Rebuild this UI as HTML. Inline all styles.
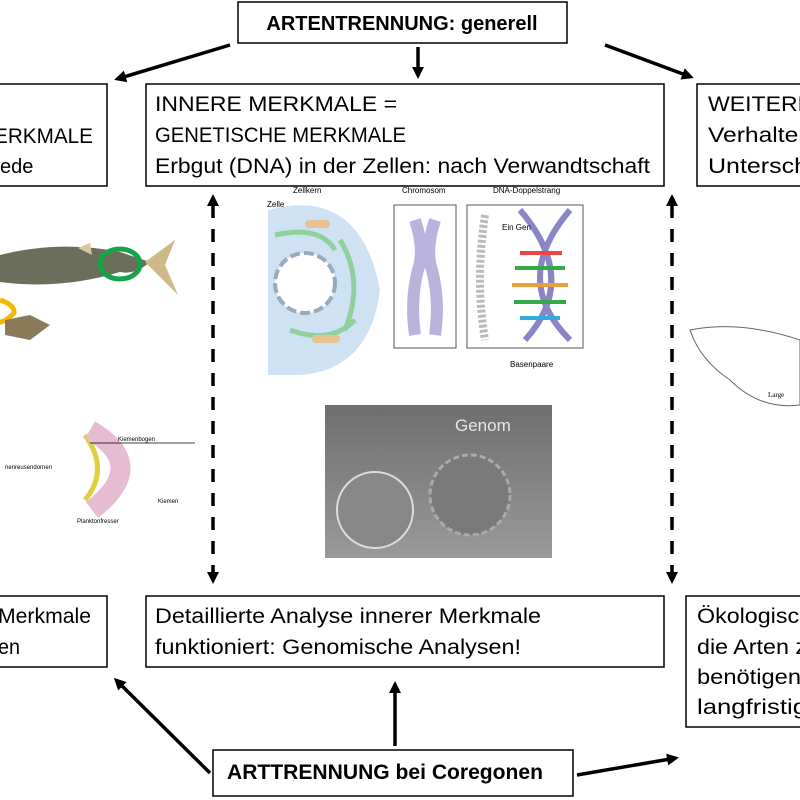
<!DOCTYPE html>
<html><head><meta charset="utf-8"><style>
body{margin:0;background:#fff;}
svg{display:block;font-family:"Liberation Sans",sans-serif;}
</style></head><body>
<svg width="800" height="800" viewBox="0 0 800 800" xmlns="http://www.w3.org/2000/svg">
<defs>
<marker id="b" markerWidth="12" markerHeight="12" refX="9" refY="6" orient="auto" markerUnits="userSpaceOnUse"><path d="M0,0L12,6L0,12z" fill="#000"/></marker>
<linearGradient id="g" x1="0" y1="0" x2="0" y2="1"><stop offset="0" stop-color="#6e6e6e"/><stop offset="1" stop-color="#9a9a9a"/></linearGradient>
</defs>
<rect width="800" height="800" fill="#fff"/>
<g fill="none" stroke="#000" stroke-width="1.5">
<rect x="238" y="2" width="329" height="41"/>
<rect x="-2" y="84" width="109" height="102"/>
<rect x="146" y="84" width="518" height="102"/>
<rect x="697" y="84" width="110" height="102"/>
<rect x="-2" y="596" width="109" height="71"/>
<rect x="146" y="596" width="518" height="71"/>
<rect x="686" y="596" width="120" height="131"/>
<rect x="213" y="750" width="360" height="46"/>
</g>
<g font-size="21" fill="#000">
<text x="402" y="30" font-weight="bold" font-size="20" text-anchor="middle">ARTENTRENNUNG: generell</text>
<text x="-6" y="143" textLength="99" lengthAdjust="spacingAndGlyphs">ERKMALE</text>
<text x="0" y="173" font-size="20">ede</text>
<text x="155" y="111" textLength="242" lengthAdjust="spacingAndGlyphs">INNERE MERKMALE =</text>
<text x="155" y="142" textLength="251" lengthAdjust="spacingAndGlyphs">GENETISCHE MERKMALE</text>
<text x="155" y="173" textLength="495" lengthAdjust="spacingAndGlyphs">Erbgut (DNA) in der Zellen: nach Verwandtschaft</text>
<text x="708" y="111" textLength="105" lengthAdjust="spacingAndGlyphs">WEITERE</text>
<text x="708" y="142" textLength="104" lengthAdjust="spacingAndGlyphs">Verhalten</text>
<text x="708" y="173" textLength="100" lengthAdjust="spacingAndGlyphs">Untersch</text>
<text x="-2" y="623" textLength="93" lengthAdjust="spacingAndGlyphs">Merkmale</text>
<text x="-2" y="654" textLength="22" lengthAdjust="spacingAndGlyphs">en</text>
<text x="155" y="623" textLength="386" lengthAdjust="spacingAndGlyphs">Detaillierte Analyse innerer Merkmale</text>
<text x="155" y="654" textLength="366" lengthAdjust="spacingAndGlyphs">funktioniert: Genomische Analysen!</text>
<text x="697" y="623" textLength="115" lengthAdjust="spacingAndGlyphs">Ökologisch</text>
<text x="697" y="654" textLength="110" lengthAdjust="spacingAndGlyphs">die Arten z</text>
<text x="697" y="684" textLength="104" lengthAdjust="spacingAndGlyphs">benötigen</text>
<text x="697" y="714" textLength="110" lengthAdjust="spacingAndGlyphs">langfristig</text>
<text x="227" y="779" font-weight="bold" textLength="316" lengthAdjust="spacingAndGlyphs">ARTTRENNUNG bei Coregonen</text>
</g>
<g stroke="#000" stroke-width="3.5" fill="none">
<line x1="230" y1="45" x2="117" y2="79" marker-end="url(#b)"/>
<line x1="418" y1="47" x2="418" y2="76" marker-end="url(#b)"/>
<line x1="605" y1="45" x2="691" y2="77" marker-end="url(#b)"/>
<line x1="210" y1="773" x2="116" y2="680" marker-end="url(#b)"/>
<line x1="395" y1="746" x2="395" y2="684" marker-end="url(#b)"/>
<line x1="577" y1="775" x2="676" y2="758" marker-end="url(#b)"/>
<line x1="213" y1="205" x2="213" y2="575" stroke-dasharray="13,11"/>
<line x1="672" y1="205" x2="672" y2="575" stroke-dasharray="13,11"/>
</g>
<path d="M207,206L213,194L219,206z M207,572L213,584L219,572z M666,206L672,194L678,206z M666,572L672,584L678,572z"/>
<path d="M268,210 Q360,185 380,290 Q370,370 300,375 L268,375z" fill="#cfe2f3"/>
<circle cx="305" cy="283" r="30" fill="#fff" stroke="#9ab" stroke-width="4" stroke-dasharray="10,4"/>
<path d="M340,240 Q365,280 345,330 M275,235 Q320,225 335,250 M290,330 Q330,345 355,320" stroke="#8fd19e" stroke-width="5" fill="none"/>
<rect x="305" y="220" width="25" height="8" rx="4" fill="#e8c28f"/>
<rect x="312" y="335" width="28" height="8" rx="4" fill="#e8c28f"/>
<text x="267" y="207" font-size="8">Zelle</text>
<text x="293" y="193" font-size="8">Zellkern</text>
<rect x="394" y="205" width="62" height="143" fill="#fff" stroke="#555"/>
<path d="M415,220 Q425,250 418,270 Q410,300 415,335 M435,220 Q425,250 432,270 Q440,300 435,335" stroke="#b9b3dd" stroke-width="12" fill="none"/>
<text x="402" y="193" font-size="8">Chromosom</text>
<rect x="467" y="205" width="116" height="143" fill="#fff" stroke="#555"/>
<path d="M520,210 Q580,280 525,340 M570,210 Q510,280 570,340" stroke="#8a85c4" stroke-width="6" fill="none"/>
<g stroke-width="4"><line x1="520" y1="253" x2="562" y2="253" stroke="#e44"/><line x1="515" y1="268" x2="565" y2="268" stroke="#3a4"/><line x1="512" y1="285" x2="568" y2="285" stroke="#e9a23b"/><line x1="514" y1="302" x2="566" y2="302" stroke="#3a4"/><line x1="520" y1="318" x2="560" y2="318" stroke="#3ad"/></g>
<path d="M485,215 Q475,280 485,340" stroke="#bbb" stroke-width="8" fill="none" stroke-dasharray="3,2"/>
<text x="493" y="193" font-size="8">DNA-Doppelstrang</text>
<text x="502" y="230" font-size="8">Ein Gen</text>
<text x="510" y="367" font-size="8">Basenpaare</text>
<rect x="325" y="405" width="227" height="153" fill="url(#g)"/>
<text x="455" y="431" font-size="17" fill="#e6e6e6">Genom</text>
<circle cx="375" cy="510" r="38" fill="#888" stroke="#ddd" stroke-width="2"/>
<circle cx="470" cy="495" r="40" fill="#7a7a7a" stroke="#aaa" stroke-width="3" stroke-dasharray="6,3"/>
<path d="M0,255 Q60,240 120,252 L150,262 Q135,275 120,272 Q60,290 0,282z" fill="#6a6e5a"/>
<path d="M145,262 L175,240 L165,265 L178,295 z" fill="#cfb98a"/>
<path d="M78,248 L90,243 L92,255z" fill="#d8c79a"/>
<ellipse cx="120" cy="264" rx="20" ry="15" fill="none" stroke="#17a34a" stroke-width="5"/>
<path d="M0,300 Q15,305 14,313 Q5,322 0,322" fill="none" stroke="#f5b800" stroke-width="5"/>
<path d="M5,320 L30,315 L50,325 L30,340 L5,335z" fill="#8a7a5a"/>
<path d="M85,435 Q110,470 85,500" stroke="#e0d040" stroke-width="5" fill="none"/>
<path d="M90,430 Q150,465 92,510" stroke="#e5bcd2" stroke-width="20" fill="none"/>
<text x="5" y="469" font-size="6">nenreusendornen</text>
<text x="118" y="441" font-size="6">Kiemenbogen</text>
<text x="158" y="503" font-size="6">Kiemen</text>
<text x="77" y="523" font-size="6">Planktonfresser</text>
<line x1="195" y1="443" x2="90" y2="443" stroke="#000" stroke-width=".7"/>
<path d="M690,330 Q740,320 800,340 L800,405 Q760,410 730,380 Q700,360 690,330z" fill="none" stroke="#666" stroke-width="1"/>
<text x="768" y="397" font-size="7" font-family="Liberation Serif">Large</text>
</svg>
</body></html>
